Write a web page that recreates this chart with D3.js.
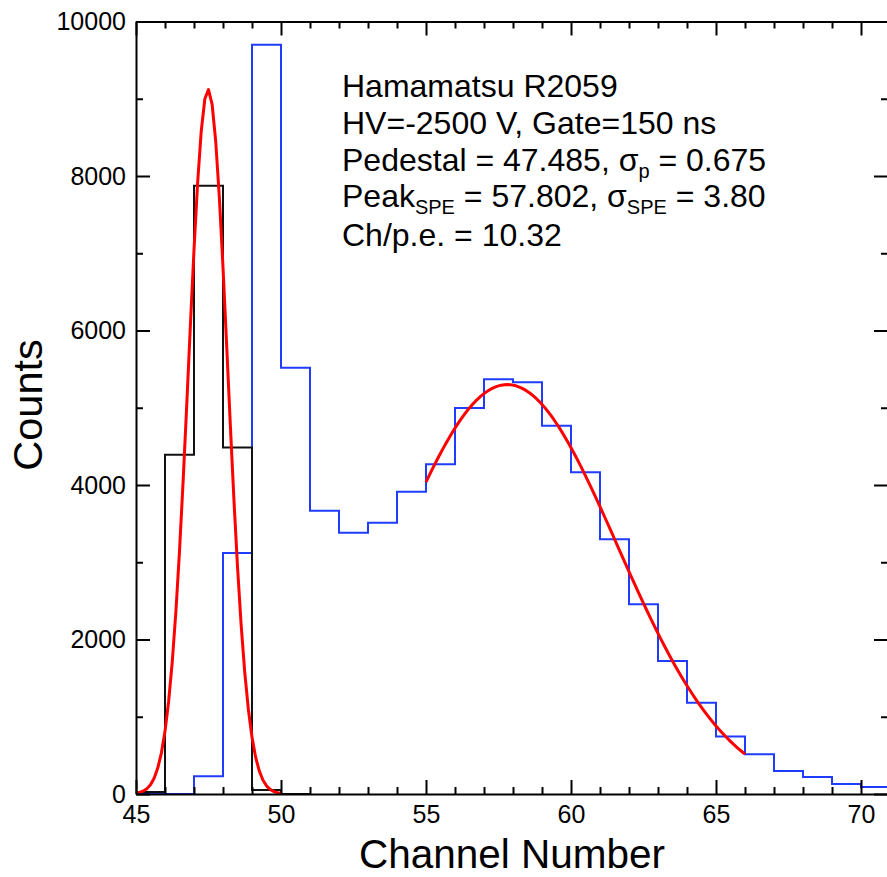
<!DOCTYPE html>
<html>
<head>
<meta charset="utf-8">
<script src="https://cdn.jsdelivr.net/npm/d3@7"></script>
<style>
  html, body { margin: 0; padding: 0; background: #fff; }
  svg { display: block; font-family: "Liberation Sans", Arial, sans-serif; }
</style>
</head>
<body>
<svg id="chart" width="887" height="877"></svg>
<script>
// Histogram bins are 1 channel wide; each value is the count for [start, start+1).
const pedestalStart = 44;
const pedestalCounts = [180, 26, 4392, 7875, 4487, 52, 0];
const signalStart = 45;
const signalCounts = [0, 0, 229, 3120, 9700, 5518, 3668, 3383, 3512, 3913, 4268,
  4997, 5368, 5329, 4768, 4166, 3297, 2456, 1722, 1182, 745, 516, 298, 220, 130, 91];

// Gaussian fit results (amplitude, mean, sigma) and the channel range of each fit.
const pedestalFit = { amp: 9120, mean: 47.485, sigma: 0.675, from: 45, to: 50, step: 0.125 };
const speFit = { amp: 5300, mean: 57.802, sigma: 3.80, from: 55, to: 66, step: 0.1 };

const xTicks = [45, 50, 55, 60, 65, 70];
const yTicks = [0, 2000, 4000, 6000, 8000, 10000];

const svg = d3.select("#chart");
const plotL = 136, plotR = 888, plotT = 21.5, plotB = 794;

const x = d3.scaleLinear().domain([45, 45 + (plotR - plotL) / 29]).range([plotL, plotR]);
const y = d3.scaleLinear().domain([0, 10000]).range([plotB, plotT]);

svg.append("defs").append("clipPath").attr("id", "plot")
  .append("rect").attr("x", plotL).attr("y", plotT)
  .attr("width", plotR - plotL).attr("height", plotB - plotT);

function histPoints(start, counts) {
  const pts = counts.map((c, i) => [start + i, c]);
  pts.push([start + counts.length, counts[counts.length - 1]]);
  return pts;
}
const step = d3.line().x(d => x(d[0])).y(d => y(d[1])).curve(d3.curveStepAfter);
const smooth = d3.line().x(d => x(d[0])).y(d => y(d[1]));

function fitPoints(f) {
  const n = Math.round((f.to - f.from) / f.step);
  return d3.range(n + 1).map(i => {
    const c = f.from + i * f.step;
    return [c, f.amp * Math.exp(-((c - f.mean) ** 2) / (2 * f.sigma ** 2))];
  });
}

const g = svg.append("g").attr("clip-path", "url(#plot)");
g.append("path").attr("d", step(histPoints(signalStart, signalCounts)))
  .attr("fill", "none").attr("stroke", "#1f3cff").attr("stroke-width", 2);
g.append("path").attr("d", step(histPoints(pedestalStart, pedestalCounts)))
  .attr("fill", "none").attr("stroke", "#111").attr("stroke-width", 2);
g.append("path").attr("d", smooth(fitPoints(pedestalFit)))
  .attr("fill", "none").attr("stroke", "#ff0000").attr("stroke-width", 3)
  .attr("stroke-linejoin", "round");
g.append("path").attr("d", smooth(fitPoints(speFit)))
  .attr("fill", "none").attr("stroke", "#ff0000").attr("stroke-width", 3)
  .attr("stroke-linejoin", "round");

// Frame: ticks point inward on all four sides.
const majorLen = 14, minorLen = 7;
const xMinor = d3.range(46, 71).filter(v => v % 5 !== 0);
const yMinor = d3.range(1000, 10000, 2000);

function styleAxis(sel) {
  sel.select(".domain").attr("stroke", "#000").attr("stroke-width", 2);
  sel.selectAll(".tick line").attr("stroke", "#000").attr("stroke-width", 2);
}
function minorStyle(s) {
  s.select(".domain").remove();
  s.selectAll("line").attr("stroke", "#000").attr("stroke-width", 2);
}

const bottomAxis = svg.append("g").attr("transform", `translate(0,${plotB})`)
  .call(d3.axisBottom(x).tickValues(xTicks).tickSize(-majorLen).tickSizeOuter(0).tickPadding(0));
styleAxis(bottomAxis);
bottomAxis.selectAll(".tick text").attr("y", 29).attr("dy", 0).attr("font-size", 25)
  .attr("font-family", "Liberation Sans, Arial, sans-serif").attr("fill", "#000");
svg.append("g").attr("transform", `translate(0,${plotB})`)
  .call(d3.axisBottom(x).tickValues(xMinor).tickSize(-minorLen).tickSizeOuter(0).tickFormat(""))
  .call(minorStyle);

const topAxis = svg.append("g").attr("transform", `translate(0,${plotT})`)
  .call(d3.axisTop(x).tickValues(xTicks).tickSize(-majorLen).tickSizeOuter(0).tickFormat(""));
styleAxis(topAxis);
svg.append("g").attr("transform", `translate(0,${plotT})`)
  .call(d3.axisTop(x).tickValues(xMinor).tickSize(-minorLen).tickSizeOuter(0).tickFormat(""))
  .call(minorStyle);

const leftAxis = svg.append("g").attr("transform", `translate(${plotL},0)`)
  .call(d3.axisLeft(y).tickValues(yTicks).tickSize(-majorLen).tickSizeOuter(0)
    .tickFormat(d3.format("d")));
styleAxis(leftAxis);
leftAxis.selectAll(".tick text").attr("x", -10).attr("font-size", 25)
  .attr("font-family", "Liberation Sans, Arial, sans-serif").attr("fill", "#000");
svg.append("g").attr("transform", `translate(${plotL},0)`)
  .call(d3.axisLeft(y).tickValues(yMinor).tickSize(-minorLen).tickSizeOuter(0).tickFormat(""))
  .call(minorStyle);

const rightAxis = svg.append("g").attr("transform", `translate(${plotR},0)`)
  .call(d3.axisRight(y).tickValues(yTicks).tickSize(-majorLen).tickSizeOuter(0).tickFormat(""));
styleAxis(rightAxis);
svg.append("g").attr("transform", `translate(${plotR},0)`)
  .call(d3.axisRight(y).tickValues(yMinor).tickSize(-minorLen).tickSizeOuter(0).tickFormat(""))
  .call(minorStyle);

// Axis titles
svg.append("text").attr("x", 512).attr("y", 868).attr("text-anchor", "middle")
  .attr("font-size", 40.5).attr("fill", "#000").text("Channel Number");
svg.append("text").attr("transform", "translate(42,405) rotate(-90)")
  .attr("text-anchor", "middle").attr("font-size", 41.5).attr("fill", "#000").text("Counts");

// Fit summary
const note = svg.append("g").attr("font-size", 32).attr("fill", "#000");
const lineX = 342;
const sub = { size: 20, dy: 7 };
note.append("text").attr("x", lineX).attr("y", 97).text("Hamamatsu R2059");
note.append("text").attr("x", lineX).attr("y", 134).text("HV=-2500 V, Gate=150 ns");
const l3 = note.append("text").attr("x", lineX).attr("y", 171);
l3.append("tspan").text(`Pedestal = ${pedestalFit.mean.toFixed(3)}, σ`);
l3.append("tspan").attr("font-size", sub.size).attr("dy", sub.dy).text("p");
l3.append("tspan").attr("dy", -sub.dy).text(` = ${pedestalFit.sigma.toFixed(3)}`);
const l4 = note.append("text").attr("x", lineX).attr("y", 207);
l4.append("tspan").text("Peak");
l4.append("tspan").attr("font-size", sub.size).attr("dy", sub.dy).text("SPE");
l4.append("tspan").attr("dy", -sub.dy).text(` = ${speFit.mean.toFixed(3)}, σ`);
l4.append("tspan").attr("font-size", sub.size).attr("dy", sub.dy).text("SPE");
l4.append("tspan").attr("dy", -sub.dy).text(` = ${speFit.sigma.toFixed(2)}`);
note.append("text").attr("x", lineX).attr("y", 246)
  .text(`Ch/p.e. = ${(speFit.mean - pedestalFit.mean).toFixed(2)}`);
</script>
</body>
</html>
